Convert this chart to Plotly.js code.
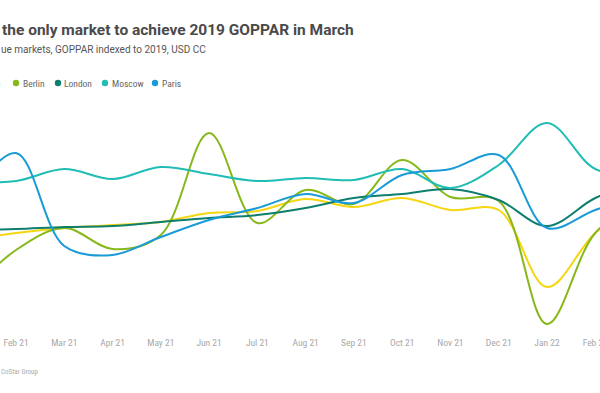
<!DOCTYPE html>
<html>
<head>
<meta charset="utf-8">
<script src="https://cdn.plot.ly/plotly-3.0.1.min.js"></script>
<style>
  html, body { margin: 0; padding: 0; background: #fff; overflow: hidden; }
  #chart { width: 600px; height: 393px; }
</style>
</head>
<body>
<div id="chart"></div>
<script>
// Months (index positions) and tick labels
const months = ["Jan 21","Feb 21","Mar 21","Apr 21","May 21","Jun 21","Jul 21","Aug 21","Sep 21","Oct 21","Nov 21","Dec 21","Jan 22","Feb 22","Mar 22"];
const monthIndex = [0,1,2,3,4,5,6,7,8,9,10,11,12,13,14];

// Series values (GOPPAR index)
const amsterdam = [30, 33.5, 36, 37.5, 39, 43.5, 44.5, 50.5, 46.5, 51, 45, 45, 6.5, 33.5, 50];
const berlin    = [2.5, 25, 36, 25.5, 32.5, 83.5, 38.5, 55, 48, 70, 51.5, 49.5, -12, 33.5, 50];
const london    = [35, 35.5, 36.5, 37, 39, 41, 42.5, 46, 51, 53, 55.5, 50, 37, 51, 60];
const moscow    = [59, 59.5, 65.5, 60.5, 66.5, 63, 59.5, 61, 60, 65.5, 56, 67.5, 88.5, 65.5, 62.5];
const paris     = [50, 73.5, 27, 22.5, 31.5, 40, 46, 53, 48.5, 62.5, 65.5, 72.5, 36, 45, 52.5];

const seriesNames = ["Amsterdam", "Berlin", "London", "Moscow", "Paris"];
const seriesValues = [amsterdam, berlin, london, moscow, paris];
const seriesColors = ["#F5D60F", "#86B81A", "#0E7F6E", "#20BDB5", "#1A9BD7"];

const titleText = "the only market to achieve 2019 GOPPAR in March";
const subtitleText = "ue markets, GOPPAR indexed to 2019, USD CC";
const sourceText = "© CoStar Group";

const FONT = "'Roboto Condensed', 'Liberation Sans Narrow', Roboto, sans-serif";
const W = 600, H = 393, MT = 100, MB = 63;
const plotH = H - MT - MB;
const py = p => (H - MB - p) / plotH;   // pixel y -> paper y
const px = p => p / W;                  // pixel x -> paper x

const traces = seriesNames.map((n, i) => ({
  type: "scatter",
  mode: "lines",
  name: n,
  x: monthIndex,
  y: seriesValues[i],
  line: { color: seriesColors[i], width: 2, shape: "spline", smoothing: 1 },
  showlegend: false,
  hoverinfo: "skip"
}));

// Legend built from series names/colours
const legendTextX = [1, 22, 63, 111, 161];
const legendDotX  = [-52, 16, 58, 105, 155];
const legendY = 83;
const annotations = [];
const shapes = [];
seriesNames.forEach((n, i) => {
  annotations.push({
    xref: "paper", yref: "paper",
    x: px(legendTextX[i]), y: py(legendY),
    xanchor: i === 0 ? "right" : "left", yanchor: "middle",
    text: n, showarrow: false, borderpad: 0,
    font: { family: FONT, size: 9.5, color: "#666" }
  });
  shapes.push({
    type: "circle", xref: "paper", yref: "paper",
    xsizemode: "pixel", ysizemode: "pixel",
    xanchor: px(legendDotX[i]), yanchor: py(legendY),
    x0: -3.2, x1: 3.2, y0: -3.2, y1: 3.2,
    fillcolor: seriesColors[i], line: { width: 0 }
  });
});

annotations.push({
  xref: "paper", yref: "paper",
  x: px(0), y: py(50), xanchor: "left", yanchor: "middle",
  text: subtitleText, showarrow: false, borderpad: 0,
  font: { family: "Roboto, sans-serif", size: 10, color: "#555" }
});
annotations.push({
  xref: "paper", yref: "paper",
  x: px(-7), y: py(372), xanchor: "left", yanchor: "middle",
  text: sourceText, showarrow: false, borderpad: 0,
  font: { family: FONT, size: 7, color: "#aaa" }
});

const layout = {
  width: W, height: H,
  margin: { l: 0, r: 0, t: MT, b: MB, autoexpand: false },
  paper_bgcolor: "#fff", plot_bgcolor: "#fff",
  showlegend: false,
  title: {
    text: titleText,
    x: 2 / W, xref: "container", xanchor: "left",
    y: 1 - 30 / H, yref: "container", yanchor: "middle",
    font: { family: "Roboto, sans-serif", size: 15.5, color: "#4a4a4a", weight: "bold" }
  },
  xaxis: {
    range: [1 - 16 / 48.27, 1 + (W - 16) / 48.27],
    tickmode: "array", tickvals: monthIndex, ticktext: months,
    ticklabeloverflow: "allow",
    ticklabelstandoff: 5,
    showgrid: false, zeroline: false, showline: false, ticks: "",
    tickfont: { family: FONT, size: 9.5, color: "#a8a8a8" },
    fixedrange: true
  },
  yaxis: {
    range: [-15, 100],
    visible: false, showgrid: false, zeroline: false, fixedrange: true
  },
  annotations: annotations,
  shapes: shapes
};

Plotly.newPlot("chart", traces, layout, { displayModeBar: false, staticPlot: true });
</script>
</body>
</html>
